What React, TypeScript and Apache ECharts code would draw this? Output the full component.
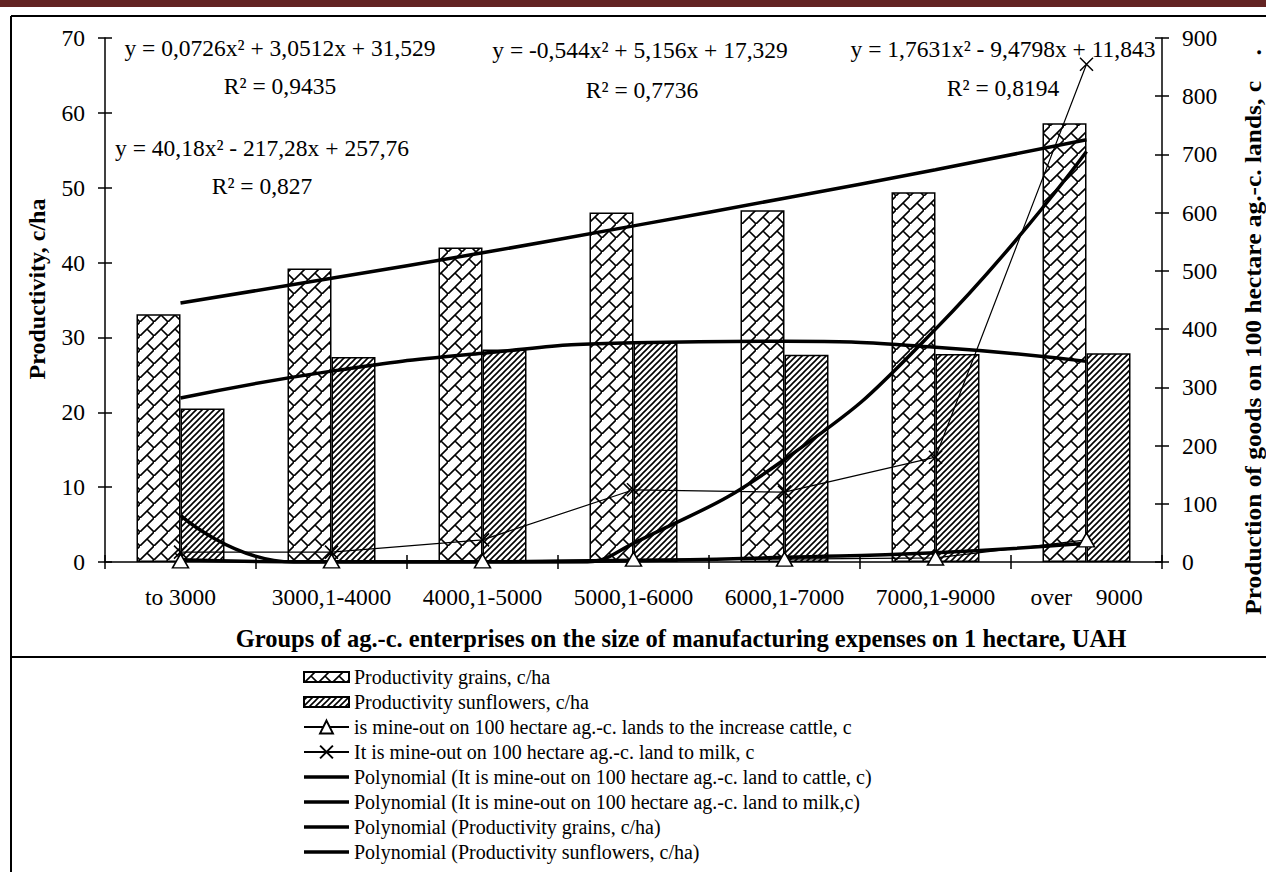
import React, { useEffect, useRef } from "react";
import * as echarts from "echarts";

const categories = ["to 3000", "3000,1-4000", "4000,1-5000", "5000,1-6000", "6000,1-7000", "7000,1-9000", "over\u00a0\u00a0\u00a0\u00a09000"];
const grains = [33.1, 39.2, 42.0, 46.7, 47.0, 49.4, 58.6];
const sunflowers = [20.5, 27.4, 28.4, 29.4, 27.7, 27.8, 27.9];
const cattle = [2, 2, 2, 5, 5, 7, 38];
const milk = [17, 17, 38, 124, 120, 180, 855];
const trendGrains = [34.6, 37.9, 41.3, 44.9, 48.6, 52.4, 56.4];
const trendSunflowers = [21.9, 25.5, 27.9, 29.3, 29.5, 28.7, 26.8];
const trendCattleX = [1, 2, 3, 4, 5, 6, 7];
const trendCattle = [4, 0, 0, 2, 8, 16, 32];
const trendMilkX = [1, 1.75, 3.65, 4, 5, 6, 7];
const trendMilk = [80, 0, 0, 32, 176, 400, 705];

const nGrains = "Productivity grains, c/ha";
const nSun = "Productivity sunflowers, c/ha";
const nCattle = "is mine-out on 100 hectare ag.-c. lands to the increase cattle, c";
const nMilk = "It is mine-out on 100 hectare ag.-c. land to milk, c";
const nPCattle = "Polynomial (It is mine-out on 100 hectare ag.-c. land to cattle, c)";
const nPMilk = "Polynomial (It is mine-out on 100 hectare ag.-c. land to milk,c)";
const nPGrains = "Polynomial (Productivity grains, c/ha)";
const nPSun = "Polynomial (Productivity sunflowers, c/ha)";

const FONT = "'Liberation Serif', 'Times New Roman', serif";

function brickPattern() {
  const T = 14;
  const c = document.createElement("canvas");
  c.width = T;
  c.height = T;
  const g = c.getContext("2d")!;
  g.fillStyle = "#fff";
  g.fillRect(0, 0, T, T);
  g.strokeStyle = "#000";
  g.lineWidth = 1.6;
  g.beginPath();
  g.moveTo(-2, T + 2);
  g.lineTo(T + 2, -2);
  g.moveTo(T / 2, T / 2);
  g.lineTo(T, T);
  g.moveTo(-T / 2, -T / 2);
  g.lineTo(0, 0);
  g.stroke();
  return c;
}

function stripePattern() {
  const T = 6;
  const c = document.createElement("canvas");
  c.width = T;
  c.height = T;
  const g = c.getContext("2d")!;
  g.fillStyle = "#fff";
  g.fillRect(0, 0, T, T);
  g.strokeStyle = "#000";
  g.lineWidth = 1.6;
  g.beginPath();
  g.moveTo(-2, T + 2);
  g.lineTo(T + 2, -2);
  g.moveTo(-2, 2);
  g.lineTo(2, -2);
  g.moveTo(T - 2, T + 2);
  g.lineTo(T + 2, T - 2);
  g.stroke();
  return c;
}

export default function App() {
  const ref = useRef<HTMLDivElement>(null);
  useEffect(() => {
    if (!ref.current) return;
    const chart = echarts.init(ref.current, undefined, { renderer: "svg" });
    const axisLine = { show: true, lineStyle: { color: "#000", width: 1.5 } };
    const tickOut = { show: true, inside: false, length: 7, lineStyle: { color: "#000", width: 1.5 } };
    const tickIn = { show: true, inside: true, length: 7, lineStyle: { color: "#000", width: 1.5 } };
    const labelStyle = { color: "#000", fontFamily: FONT, fontSize: 23.5 };
    const pairs = (xs: number[], ys: number[]) => ys.map((v, i) => [xs[i], v]);
    const pos = categories.map((_, i) => i + 1);
    const eq = (text: string, x: number, y: number) => ({
      type: "text",
      x,
      y,
      style: { text, fill: "#000", font: `23.5px ${FONT}`, textAlign: "center", textVerticalAlign: "middle" },
    });
    const thick = { color: "#000", width: 3.5 };
    const barIcon = "path://M0,0H45V10H0Z";
    const lineIcon = "path://M0,0H45V3.5H0Z";
    chart.setOption({
      animation: false,
      backgroundColor: "#fff",
      grid: { left: 105, right: 104, top: 38, bottom: 310, containLabel: false },
      xAxis: [
        {
          type: "category",
          data: categories,
          position: "bottom",
          axisLine,
          axisTick: tickOut,
          axisLabel: { ...labelStyle, margin: 23, interval: 0 },
          splitLine: { show: false },
        },
        { type: "value", min: 0.5, max: 7.5, show: false },
        {
          type: "category",
          data: categories,
          position: "bottom",
          axisLine: { show: false },
          axisTick: tickIn,
          axisLabel: { show: false },
          splitLine: { show: false },
        },
      ],
      yAxis: [
        {
          type: "value",
          min: 0,
          max: 70,
          interval: 10,
          position: "left",
          axisLine,
          axisTick: tickOut,
          axisLabel: { ...labelStyle, margin: 20 },
          splitLine: { show: false },
        },
        {
          type: "value",
          min: 0,
          max: 900,
          interval: 100,
          position: "right",
          axisLine,
          axisTick: tickOut,
          axisLabel: { ...labelStyle, margin: 20 },
          splitLine: { show: false },
        },
        {
          type: "value",
          min: 0,
          max: 70,
          interval: 10,
          position: "left",
          axisLine: { show: false },
          axisTick: tickIn,
          axisLabel: { show: false },
          splitLine: { show: false },
        },
        {
          type: "value",
          min: 0,
          max: 900,
          interval: 100,
          position: "right",
          axisLine: { show: false },
          axisTick: tickIn,
          axisLabel: { show: false },
          splitLine: { show: false },
        },
      ],
      legend: {
        orient: "vertical",
        left: 298,
        top: 662,
        itemWidth: 45,
        itemHeight: 16,
        itemGap: 5,
        selectedMode: false,
        symbolKeepAspect: true,
        textStyle: { color: "#000", fontFamily: FONT, fontSize: 20, lineHeight: 20 },
        data: [
          { name: nGrains, icon: barIcon },
          { name: nSun, icon: barIcon },
          nCattle,
          nMilk,
          { name: nPCattle, icon: lineIcon },
          { name: nPMilk, icon: lineIcon },
          { name: nPGrains, icon: lineIcon },
          { name: nPSun, icon: lineIcon },
        ],
      },
      series: [
        {
          name: nGrains,
          type: "bar",
          xAxisIndex: 0,
          yAxisIndex: 0,
          data: grains,
          barWidth: 44,
          barGap: "0%",
          itemStyle: { color: { image: brickPattern(), repeat: "repeat" }, borderColor: "#000", borderWidth: 1.5 },
          z: 2,
        },
        {
          name: nSun,
          type: "bar",
          xAxisIndex: 0,
          yAxisIndex: 0,
          data: sunflowers,
          barWidth: 44,
          barGap: "0%",
          itemStyle: { color: { image: stripePattern(), repeat: "repeat" }, borderColor: "#000", borderWidth: 1.5 },
          z: 2,
        },
        {
          name: nCattle,
          type: "line",
          xAxisIndex: 1,
          yAxisIndex: 1,
          data: pairs(pos, cattle),
          symbol: "triangle",
          symbolSize: [16, 14],
          lineStyle: { color: "#000", width: 1.2 },
          itemStyle: { color: "#fff", borderColor: "#000", borderWidth: 1.5 },
          z: 5,
        },
        {
          name: nMilk,
          type: "line",
          xAxisIndex: 1,
          yAxisIndex: 1,
          data: pairs(pos, milk),
          symbol: "path://M0,0L10,10M10,0L0,10",
          symbolSize: 13,
          lineStyle: { color: "#000", width: 1.2 },
          itemStyle: { color: "#000", borderColor: "#000", borderWidth: 1.5 },
          z: 5,
        },
        {
          name: nPCattle,
          type: "line",
          xAxisIndex: 1,
          yAxisIndex: 1,
          data: pairs(trendCattleX, trendCattle),
          smooth: true,
          symbol: "none",
          lineStyle: thick,
          itemStyle: { color: "#000" },
          z: 4,
        },
        {
          name: nPMilk,
          type: "line",
          xAxisIndex: 1,
          yAxisIndex: 1,
          data: pairs(trendMilkX, trendMilk),
          smooth: true,
          symbol: "none",
          lineStyle: thick,
          itemStyle: { color: "#000" },
          z: 4,
        },
        {
          name: nPGrains,
          type: "line",
          xAxisIndex: 1,
          yAxisIndex: 0,
          data: pairs(pos, trendGrains),
          smooth: true,
          symbol: "none",
          lineStyle: thick,
          itemStyle: { color: "#000" },
          z: 4,
        },
        {
          name: nPSun,
          type: "line",
          xAxisIndex: 1,
          yAxisIndex: 0,
          data: pairs(pos, trendSunflowers),
          smooth: true,
          symbol: "none",
          lineStyle: thick,
          itemStyle: { color: "#000" },
          z: 4,
        },
      ],
      graphic: [
        { type: "rect", shape: { x: 0, y: 0, width: 1266, height: 7 }, style: { fill: "#632423" }, silent: true },
        { type: "line", shape: { x1: 11, y1: 16, x2: 1266, y2: 16 }, style: { stroke: "#000", lineWidth: 2 }, silent: true },
        { type: "line", shape: { x1: 11, y1: 16, x2: 11, y2: 872 }, style: { stroke: "#000", lineWidth: 2 }, silent: true },
        { type: "line", shape: { x1: 11, y1: 657, x2: 1266, y2: 657 }, style: { stroke: "#000", lineWidth: 2 }, silent: true },
        eq("y = 0,0726x² + 3,0512x + 31,529", 280, 48),
        eq("R² = 0,9435", 280, 86),
        eq("y = 40,18x² - 217,28x + 257,76", 262, 148),
        eq("R² = 0,827", 262, 186),
        eq("y = -0,544x² + 5,156x + 17,329", 640, 50),
        eq("R² = 0,7736", 642, 90),
        eq("y = 1,7631x² - 9,4798x + 11,843", 1003, 49),
        eq("R² = 0,8194", 1003, 88),
        {
          type: "text",
          x: 681,
          y: 638,
          style: {
            text: "Groups of ag.-c. enterprises on the size of manufacturing expenses on 1 hectare, UAH",
            fill: "#000",
            font: `bold 24.5px ${FONT}`,
            textAlign: "center",
            textVerticalAlign: "middle",
          },
        },
        {
          type: "text",
          x: 37,
          y: 289,
          rotation: Math.PI / 2,
          style: { text: "Productivity, c/ha", fill: "#000", font: `bold 24px ${FONT}`, textAlign: "center", textVerticalAlign: "middle" },
        },
        {
          type: "text",
          x: 1253,
          y: 332,
          rotation: Math.PI / 2,
          scaleX: 1.06,
          style: {
            text: "Production of goods on 100 hectare ag.-c. lands, c\u00a0\u00a0\u00a0\u00a0.",
            fill: "#000",
            font: `bold 24px ${FONT}`,
            textAlign: "center",
            textVerticalAlign: "middle",
          },
        },
      ],
    });
    return () => chart.dispose();
  }, []);
  return <div ref={ref} style={{ position: "absolute", left: 0, top: 0, width: 1266, height: 872 }} />;
}
